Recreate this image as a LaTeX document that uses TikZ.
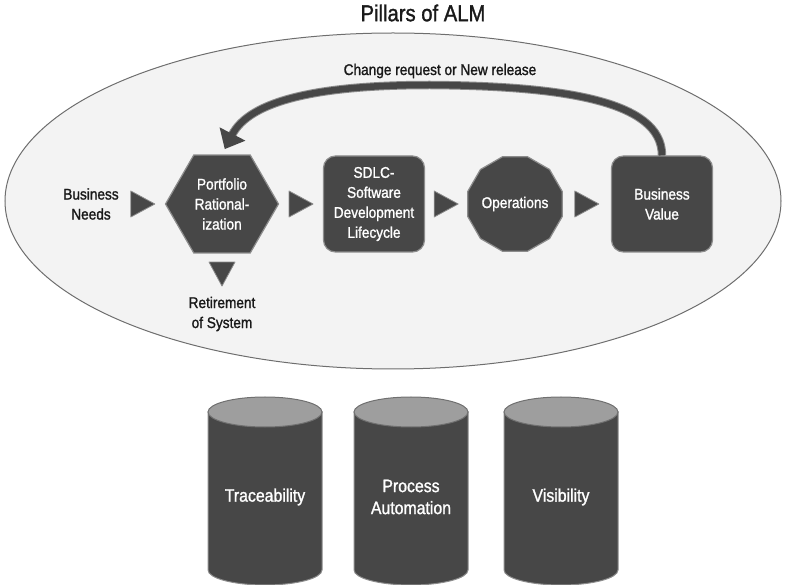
\documentclass[tikz,border=0pt]{standalone}
\usepackage{fontspec}
\setmainfont[FakeStretch=0.88, FakeBold=1.3]{Liberation Sans}
\usepackage{tikz}
\usetikzlibrary{arrows.meta, positioning, shapes.geometric, calc}
\definecolor{PillarDark}{HTML}{474747}
\definecolor{PillarEdge}{HTML}{8C8C8C}
\definecolor{PillarTop}{HTML}{9E9E9E}
\definecolor{FieldSoft}{HTML}{F3F3F3}
\definecolor{FieldLine}{HTML}{6E6E6E}

\begin{document}
\begin{tikzpicture}[x=1pt, y=-1pt,
  stage/.style={draw=PillarEdge, line width=1.2pt, fill=PillarDark, text=white, align=center, inner sep=0pt, font=\fontsize{15.5}{20}\selectfont},
  plain/.style={text=black!90, align=center, inner sep=2pt, font=\fontsize{15.5}{20}\selectfont},
  tri/.style={fill=PillarDark, draw=PillarEdge, line width=0.8pt, line join=round}]
  \useasboundingbox (0,0) rectangle (785,585);

  \node[font=\fontsize{23}{26}\selectfont, text=black!90] (title) at (423,13) {Pillars of ALM};
  \node[ellipse, draw=FieldLine, fill=FieldSoft, line width=1pt, minimum width=776pt, minimum height=336pt] (field) at (393,201) {};

  % stages of the life cycle
  \node[plain] (needs) at (91,204) {Business\\Needs};
  \node[stage, regular polygon, regular polygon sides=6, minimum size=113pt] (port) at (222,204) {Portfolio\\Rational-\\ization};
  \node[stage, rounded corners=12pt, minimum width=101pt, minimum height=96pt] (sdlc) at (374,204) {SDLC-\\Software\\Development\\Lifecycle};
  \node[stage, regular polygon, regular polygon sides=12, minimum size=97pt] (ops) at (515,204) {Operations};
  \node[stage, rounded corners=12pt, minimum width=101pt, minimum height=96pt] (value) at (662,204) {Business\\Value};
  \node[plain] (retire) at (222,314) {Retirement\\of System};
  \node[plain] (change) at (440,71) {Change request or New release};

  \foreach \a/\b in {needs/port, port/sdlc, sdlc/ops, ops/value}
    \fill[tri] ($(\a.east)!0.5!(\b.west)$) ++(-12,-13) -- ++(24,13) -- ++(-24,13) -- cycle;
  \fill[tri] ($(port.south)!0.5!(retire.north)$) ++(-13,-12) -- ++(26,0) -- ++(-13,24) -- cycle;

  % feedback loop
  \draw[PillarEdge, line width=8.5pt, shorten >=22pt] (value.north) .. controls (662,100) and (560,86) .. (430,85) .. controls (320,85) and (250,100) .. (port.north);
  \draw[PillarDark, line width=6.5pt, shorten >=6pt, -{Triangle[width=28pt, length=17pt]}] (value.north) .. controls (662,100) and (560,86) .. (430,85) .. controls (320,85) and (250,100) .. (port.north);

  % the three pillars
  \foreach \x/\name/\txt in {265/trace/Traceability, 411/proc/{Process\\Automation}, 561/vis/Visibility} {
    \filldraw[fill=PillarDark, draw=PillarEdge, line width=1pt] ({\x-57},412) -- ({\x-57},570) arc[start angle=180, end angle=360, x radius=57pt, y radius=15pt] -- ({\x+57},412) -- cycle;
    \filldraw[fill=PillarTop, draw=PillarEdge!80!black, line width=1pt] (\x,412) ellipse [x radius=57pt, y radius=15pt];
    \node[text=white, align=center, font=\fontsize{18}{22}\selectfont] (\name) at (\x,497) {\txt};
  }
\end{tikzpicture}
\end{document}
